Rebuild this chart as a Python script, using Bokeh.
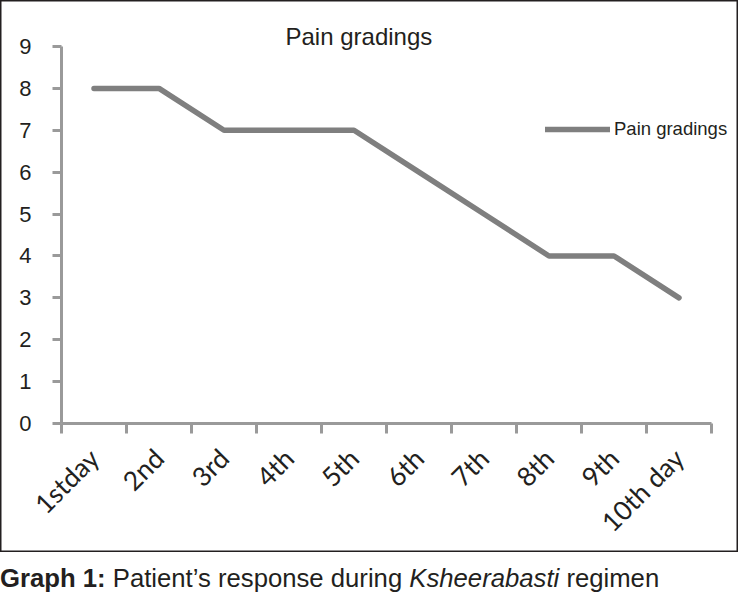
import math
from bokeh.plotting import figure
from bokeh.models import (Range1d, FixedTicker, Legend, LegendItem, Label,
                          Div, ColumnDataSource)
from bokeh.layouts import column
from bokeh.embed import file_html
from bokeh.resources import INLINE

days = ["1stday", "2nd", "3rd", "4th", "5th", "6th", "7th", "8th", "9th", "10th day"]
pain = [8, 8, 7, 7, 7, 6, 5, 4, 4, 3]
y_ticks = [0, 1, 2, 3, 4, 5, 6, 7, 8, 9]
title_text = "Pain gradings"
series_name = "Pain gradings"

n = len(days)
centers = [i + 0.5 for i in range(n)]
bounds = [i for i in range(n + 1)]
y_max = max(y_ticks)

AXIS_COL = "#9a9a9a"
LINE_COL = "#7f7f7f"
TEXT_COL = "#231f20"

# geometry (pixels)
FIG_W, FIG_H = 738, 552
LEFT, RIGHT_PAD, TOP, BOTTOM = 61, 5, 2, 129
AXIS_W_PX = 650            # length of the x axis (0..n)
AXIS_H_PX = 377            # length of the y axis (0..y_max)
frame_w = FIG_W - LEFT - RIGHT_PAD
frame_h = FIG_H - TOP - BOTTOM

p = figure(width=FIG_W, height=FIG_H, output_backend="svg", toolbar_location=None,
           x_range=Range1d(0, n * frame_w / AXIS_W_PX),
           y_range=Range1d(0, y_max * frame_h / AXIS_H_PX),
           min_border_left=LEFT, min_border_right=RIGHT_PAD, min_border_top=TOP,
           min_border_bottom=BOTTOM)
p.outline_line_color = None
p.xgrid.visible = False
p.ygrid.visible = False
p.background_fill_alpha = 0
p.border_fill_alpha = 0
p.styles = {"background-color": "white",
            "box-shadow": "inset 0 0 0 1.5px #231f20"}

src = ColumnDataSource(dict(x=centers, y=pain, day=days))
r = p.line("x", "y", source=src, line_color=LINE_COL, line_width=5.5,
           line_cap="round", line_join="round")

# x axis: labels at centres, ticks at category boundaries
xa = p.xaxis[0]
xa.bounds = (0, n)
xa.ticker = FixedTicker(ticks=centers, minor_ticks=bounds)
xa.major_label_overrides = {c: d for c, d in zip(centers, days)}
xa.major_label_orientation = math.pi / 4
xa.major_tick_out = 10
xa.major_tick_in = 0
xa.major_tick_line_color = None
xa.minor_tick_out = 10
xa.minor_tick_in = 0
xa.minor_tick_line_color = AXIS_COL
xa.minor_tick_line_width = 3
xa.axis_line_color = AXIS_COL
xa.axis_line_width = 3
xa.major_label_text_font = "Lato"
xa.major_label_text_font_size = "26.5px"
xa.major_label_text_color = TEXT_COL
xa.major_label_standoff = 20

ya = p.yaxis[0]
ya.bounds = (0, y_max)
ya.ticker = FixedTicker(ticks=y_ticks, minor_ticks=[])
ya.major_tick_out = 9
ya.major_tick_in = 0
ya.major_tick_line_color = AXIS_COL
ya.major_tick_line_width = 3
ya.axis_line_color = AXIS_COL
ya.axis_line_width = 3
ya.major_label_text_font = "Liberation Sans"
ya.major_label_text_font_size = "22px"
ya.major_label_text_color = TEXT_COL
ya.major_label_standoff = 21

legend = Legend(items=[LegendItem(label=series_name, renderers=[r])],
                location=(484, 283), padding=0, margin=0, spacing=0,
                glyph_width=65, glyph_height=20, label_standoff=4,
                label_height=20,
                label_text_font="Liberation Sans",
                label_text_font_size="18.5px", label_text_color=TEXT_COL,
                border_line_color=None, background_fill_alpha=0)
p.add_layout(legend, "center")

p.add_layout(Label(x=285, y=36, x_units="canvas", y_units="canvas",
                   text=title_text, text_align="left",
                   text_baseline="alphabetic", text_font="Liberation Sans",
                   text_font_size="24px", text_color=TEXT_COL))

caption = Div(text='<b>Graph 1:</b> Patient&rsquo;s response during <i>Ksheerabasti</i> regimen',
              width=740, height=594 - FIG_H, margin=0,
              styles={"font-family": "'Liberation Sans', Arial, sans-serif",
                      "font-size": "25.7px", "line-height": "32px",
                      "padding-top": "10px", "padding-left": "0px",
                      "color": TEXT_COL, "white-space": "nowrap",
                      "box-sizing": "border-box"})

layout = column(p, caption, spacing=0)
open("out.html", "w").write(file_html(layout, INLINE))
